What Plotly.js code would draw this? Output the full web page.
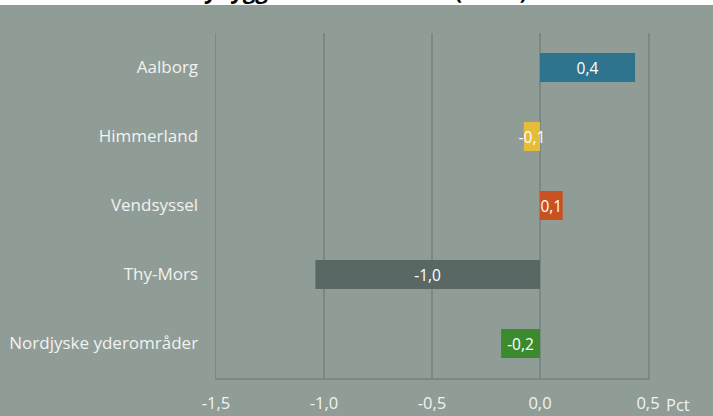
<!DOCTYPE html>
<html>
<head>
<meta charset="utf-8">
<script src="https://cdn.plot.ly/plotly-3.0.1.min.js"></script>
<style>
html,body{margin:0;padding:0;background:#ffffff;}
#chart{width:713px;height:416px;}
</style>
</head>
<body>
<div id="chart"></div>
<script>
const categories = ["Aalborg", "Himmerland", "Vendsyssel", "Thy-Mors", "Nordjyske yderområder"];
const values = [0.44, -0.075, 0.105, -1.04, -0.18];
const labels = ["0,4", "-0,1", "0,1", "-1,0", "-0,2"];
const colors = ["#2E748E", "#E6BD3A", "#C9511F", "#5A6865", "#3C8A2E"];
const xTicks = [-1.5, -1.0, -0.5, 0.0, 0.5];
const xTickLabels = ["-1,5", "-1,0", "-0,5", "0,0", "0,5"];
const titleText = "Nybyggeri i landsdelene (09-15)";
const unitLabel = "Pct";

const FONT = "'Open Sans', Lato, sans-serif";
const BG = "#8F9D96";
const GRID = "#7C8882";

const trace = {
  type: "bar",
  orientation: "h",
  y: categories,
  x: values,
  marker: {color: colors, line: {width: 0}},
  width: 0.42,
  text: labels,
  textposition: "inside",
  insidetextanchor: "middle",
  textangle: 0,
  constraintext: "none",
  textfont: {family: FONT, size: 15.5, color: "#FFFFFF"},
  cliponaxis: false,
  hoverinfo: "none"
};

const layout = {
  width: 713,
  height: 416,
  margin: {l: 216, r: 65, t: 33, b: 38},
  paper_bgcolor: BG,
  plot_bgcolor: BG,
  showlegend: false,
  xaxis: {
    range: [-1.5, 0.5],
    tickvals: xTicks,
    ticktext: xTickLabels,
    showgrid: true,
    gridcolor: GRID,
    gridwidth: 1.5,
    zeroline: true,
    zerolinecolor: GRID,
    zerolinewidth: 1.5,
    showline: true,
    linecolor: GRID,
    linewidth: 1.5,
    ticks: "",
    ticklabelstandoff: 10,
    tickfont: {family: FONT, size: 16.5, color: "#F2F2F2"},
    fixedrange: true
  },
  yaxis: {
    autorange: "reversed",
    showgrid: false,
    zeroline: false,
    showline: true,
    mirror: true,
    linecolor: GRID,
    linewidth: 1.5,
    ticks: "",
    ticklabelstandoff: 13,
    tickfont: {family: FONT, size: 17, color: "#F2F2F2"},
    fixedrange: true
  },
  shapes: [
    {type: "rect", xref: "paper", yref: "paper", x0: -0.6, x1: 1.3, y0: 1 + 28/345, y1: 1 + 40/345,
     fillcolor: "#FFFFFF", line: {width: 0}, layer: "below"}
  ],
  annotations: [
    {text: "<b>" + titleText + "</b>", xref: "paper", yref: "paper", x: 0.326, y: 1 + 26/345,
     xanchor: "center", yanchor: "bottom", showarrow: false,
     font: {family: FONT, size: 22, color: "#000000"}},
    {text: unitLabel, xref: "paper", yref: "paper", x: 1 + 30/432, y: -26/345,
     xanchor: "center", yanchor: "middle", showarrow: false,
     font: {family: FONT, size: 16.5, color: "#F2F2F2"}}
  ]
};

Plotly.newPlot("chart", [trace], layout, {displayModeBar: false, staticPlot: true});
</script>
</body>
</html>
